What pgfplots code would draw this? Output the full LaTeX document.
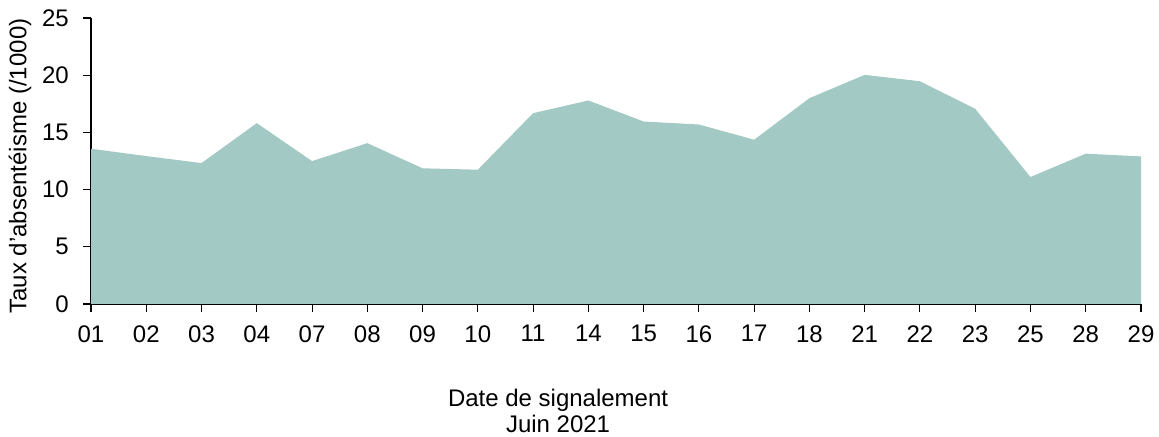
\documentclass[border=0pt]{standalone}
\usepackage{pgfplots}
\pgfplotsset{compat=1.18}
\usetikzlibrary{calc}
\usepackage{fontspec}
\setmainfont{Liberation Sans}
\definecolor{aire}{RGB}{163,201,196}

\begin{document}
\begin{tikzpicture}[x=0.75pt,y=0.75pt]
\fontsize{18}{21}\selectfont
\begin{axis}[
    scale only axis,
    width=787.5pt, height=214.5pt,
    xmin=0, xmax=19,
    ymin=0, ymax=25,
    axis x line=bottom,
    axis y line=left,
    axis line style={-, black, line width=1pt},
    xtick={0,...,19},
    xticklabels={01,02,03,04,07,08,09,10,11,14,15,16,17,18,21,22,23,25,28,29},
    ytick={0,5,...,25},
    tick style={black, line width=0.8pt},
    major tick length=6pt,
    tick align=outside,
    every tick label/.style={font=\fontsize{18}{21}\selectfont},
    xticklabel style={inner xsep=0pt, yshift=-3.75pt},
    yticklabel style={inner ysep=0pt, xshift=-4.5pt},
    /pgf/number format/assume math mode=true,
    clip=false,
]
\addplot[draw=none, fill=aire] coordinates {
    (0,13.57) (1,12.93) (2,12.32) (3,15.81) (4,12.49) (5,14.06)
    (6,11.86) (7,11.74) (8,16.68) (9,17.79) (10,15.95) (11,15.69)
    (12,14.36) (13,17.99) (14,20.03) (15,19.47) (16,17.06) (17,11.10)
    (18,13.14) (19,12.90)
} \closedcycle;
\node[rotate=90, anchor=center, inner sep=0pt, font=\fontsize{18}{21}\selectfont]
    at ($(rel axis cs:0,0.5)+(-53.25pt,-3.75pt)$) {Taux d'absentéisme (/1000)};
\node[align=center, inner sep=0pt, font=\fontsize{18}{19.5}\selectfont, anchor=base]
    at ($(axis cs:8.5,0)+(-2pt,-96.75pt)$) {Date de signalement\\Juin 2021};
\end{axis}
\path ($(current axis.south west)+(-91,-133)$) rectangle ($(current axis.north east)+(18,18)$);
\end{tikzpicture}
\end{document}
